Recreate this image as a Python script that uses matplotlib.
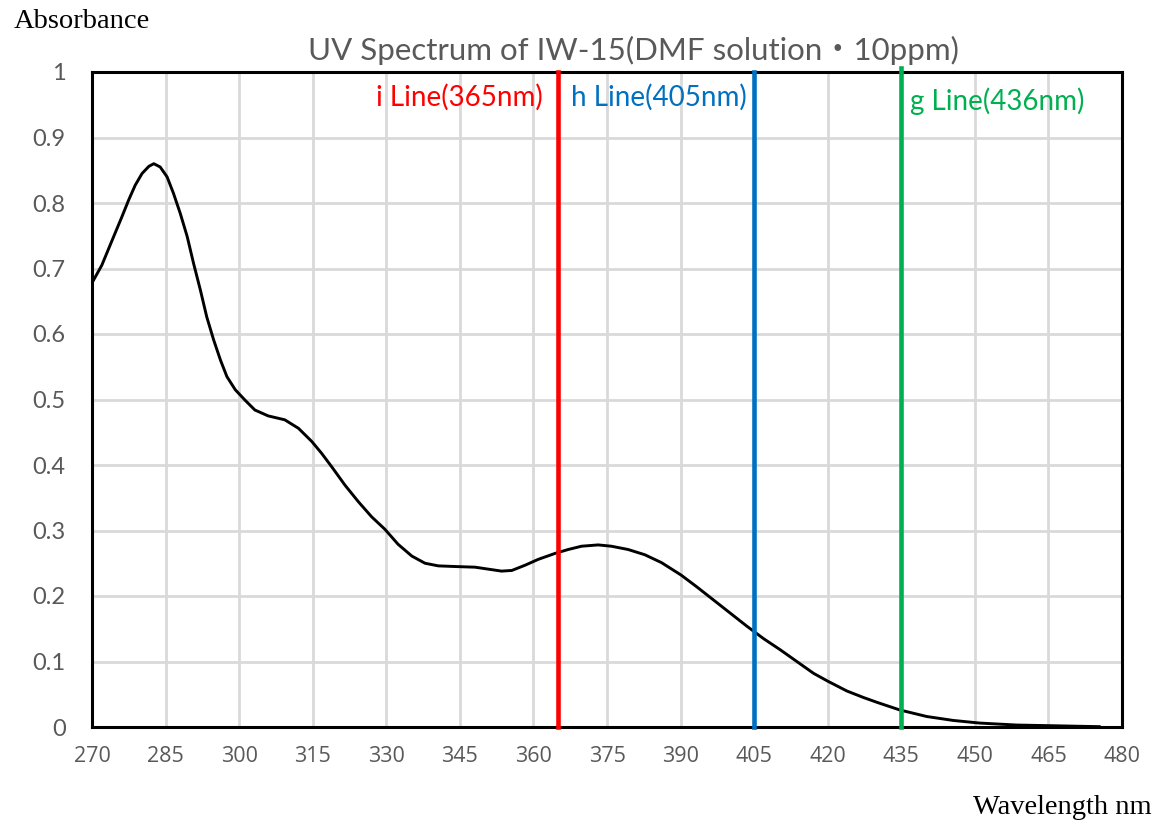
import numpy as np
import matplotlib
matplotlib.use("Agg")
import matplotlib.pyplot as plt

# spectrum
wavelength = [270.0, 272.0, 274.1, 276.1, 277.5, 278.8, 280.2, 281.6, 282.6, 283.9,
              285.3, 286.6, 288.0, 289.4, 290.7, 292.1, 293.4, 294.8, 296.2, 297.5,
              299.2, 301.2, 303.2, 305.9, 309.3, 312.1, 314.8, 316.8, 318.9, 321.6,
              324.3, 327.0, 329.7, 332.4, 335.2, 337.9, 340.6, 344.0, 348.1, 350.8,
              353.5, 355.6, 358.3, 361.0, 364.4, 367.1, 369.8, 373.2, 375.9, 379.3,
              382.7, 386.1, 390.1, 393.3, 396.7, 400.1, 403.5, 406.9, 410.3, 413.7,
              417.1, 420.0, 423.9, 427.3, 430.3, 434.7, 440.2, 445.6, 451.0, 458.5,
              468.7, 475.5]
absorbance = [0.678, 0.705, 0.743, 0.779, 0.805, 0.827, 0.845, 0.856, 0.860, 0.855,
              0.840, 0.815, 0.784, 0.749, 0.708, 0.667, 0.626, 0.591, 0.560, 0.535,
              0.515, 0.499, 0.484, 0.475, 0.469, 0.456, 0.436, 0.418, 0.397, 0.369,
              0.344, 0.321, 0.302, 0.279, 0.261, 0.250, 0.246, 0.245, 0.244, 0.241,
              0.238, 0.239, 0.247, 0.256, 0.265, 0.271, 0.276, 0.278, 0.276, 0.271,
              0.263, 0.251, 0.232, 0.214, 0.194, 0.174, 0.154, 0.135, 0.118, 0.100,
              0.082, 0.070, 0.055, 0.045, 0.037, 0.026, 0.016, 0.010, 0.006, 0.003,
              0.0015, 0.0005]

line_nm = [365, 405, 435]
line_labels = ["i Line(365nm)", "h Line(405nm)", "g Line(436nm)"]
line_colors = ["#FF0000", "#0070C0", "#00B050"]

xticks = list(range(270, 481, 15))
yticks = [0, 0.1, 0.2, 0.3, 0.4, 0.5, 0.6, 0.7, 0.8, 0.9, 1]
ytick_labels = ["0", "0.1", "0.2", "0.3", "0.4", "0.5", "0.6", "0.7", "0.8", "0.9", "1"]

fig = plt.figure(figsize=(11.56, 8.24), dpi=100)
ax = fig.add_axes([92 / 1156, 97 / 824, 1030 / 1156, 655 / 824])

ax.plot(wavelength, absorbance, color="black", lw=2.1, zorder=4,
        solid_joinstyle="round", solid_capstyle="round")

for nm, c in zip(line_nm, line_colors):
    ax.axvline(nm, color=c, lw=3.3, zorder=5, clip_on=False, ymax=1.006 if nm == 435 else 1)

lato = ["Lato", "DejaVu Sans"]
ax.text(362.0, 0.961, line_labels[0], color=line_colors[0], ha="right", va="center",
        fontsize=20, family=lato)
ax.text(367.6, 0.961, line_labels[1], color=line_colors[1], ha="left", va="center",
        fontsize=20, family=lato)
ax.text(436.7, 0.955, line_labels[2], color=line_colors[2], ha="left", va="center",
        fontsize=20, family=lato)

ax.set_xlim(270, 480)
ax.set_ylim(0, 1)
ax.set_xticks(xticks)
ax.set_yticks(yticks)
ax.set_yticklabels(ytick_labels)
ax.grid(True, color="#D9D9D9", lw=2)
ax.set_axisbelow(True)
ax.tick_params(length=0, colors="#595959")
ax.tick_params(axis="x", pad=14, labelsize=15.5)
ax.tick_params(axis="y", pad=19, labelsize=17)
for lab in ax.get_xticklabels():
    lab.set_family(["Open Sans", "DejaVu Sans"])
for lab in ax.get_yticklabels():
    lab.set_family(lato)
for s in ax.spines.values():
    s.set_linewidth(2.2)
    s.set_color("black")

fig.text(633 / 1156, 1 - 50 / 824, "UV Spectrum of IW-15(DMF solution・10ppm)",
         ha="center", va="center", fontsize=22.5, color="#595959",
         family=["Lato", "Noto Sans CJK JP"])
fig.text(14 / 1156, 1 - 22 / 824, "Absorbance", ha="left", va="center",
         fontsize=20.5, family=["Liberation Serif"])
fig.text(1152 / 1156, 1 - 808 / 824, "Wavelength nm", ha="right", va="center",
         fontsize=20.5, family=["Liberation Serif"])

fig.savefig("out.png", dpi=100)
